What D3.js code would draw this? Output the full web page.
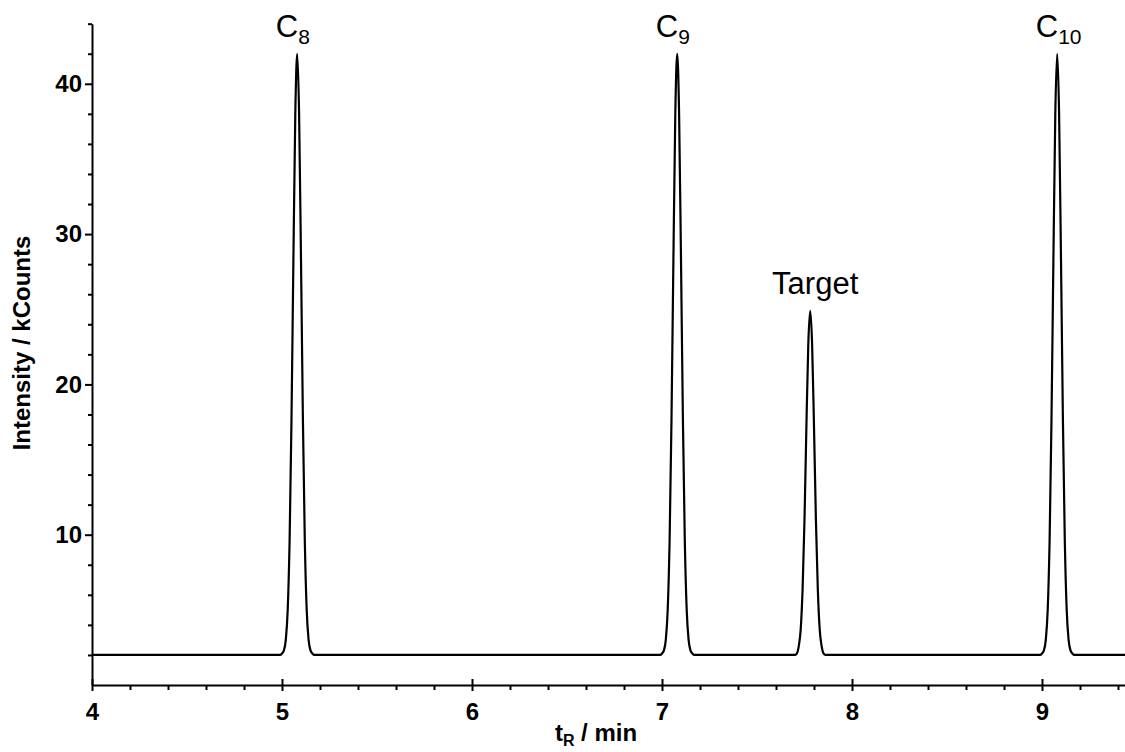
<!DOCTYPE html>
<html>
<head>
<meta charset="utf-8">
<script src="https://cdn.jsdelivr.net/npm/d3@7"></script>
<style>
  html, body { margin: 0; padding: 0; background: #fff; }
  svg { display: block; font-family: Arial, "Liberation Sans", sans-serif; }
</style>
</head>
<body>
<svg id="chart" width="1125" height="752"></svg>
<script>
/* Chromatogram: n-alkane standards C8 / C9 / C10 and the target peak */

// ---- data ----
const traceTime = [
  4.00,
  4.98, 4.99, 5.00, 5.01, 5.02, 5.03, 5.04, 5.05, 5.06, 5.07, 5.08,
  5.09, 5.10, 5.11, 5.12, 5.13, 5.14, 5.15, 5.16, 5.17, 5.18,
  6.98, 6.99, 7.00, 7.01, 7.02, 7.03, 7.04, 7.05, 7.06, 7.07, 7.08,
  7.09, 7.10, 7.11, 7.12, 7.13, 7.14, 7.15, 7.16, 7.17, 7.18,
  7.68, 7.69, 7.70, 7.71, 7.72, 7.73, 7.74, 7.75, 7.76, 7.77, 7.78,
  7.79, 7.80, 7.81, 7.82, 7.83, 7.84, 7.85, 7.86, 7.87, 7.88,
  8.98, 8.99, 9.00, 9.01, 9.02, 9.03, 9.04, 9.05, 9.06, 9.07, 9.08,
  9.09, 9.10, 9.11, 9.12, 9.13, 9.14, 9.15, 9.16, 9.17, 9.18,
  9.50
];
const traceIntensity = [
  2.0,
  2.0, 2.0, 2.1, 2.3, 3.0, 5.0, 9.6, 17.7, 28.3, 38.0, 42.0,
  38.0, 28.3, 17.7, 9.6, 5.0, 3.0, 2.3, 2.1, 2.0, 2.0,
  2.0, 2.0, 2.1, 2.3, 3.0, 5.0, 9.6, 17.7, 28.3, 38.0, 42.0,
  38.0, 28.3, 17.7, 9.6, 5.0, 3.0, 2.3, 2.1, 2.0, 2.0,
  2.0, 2.0, 2.0, 2.1, 2.6, 3.7, 6.4, 11.0, 17.2, 22.7, 24.9,
  22.7, 17.2, 11.0, 6.4, 3.7, 2.6, 2.1, 2.0, 2.0, 2.0,
  2.0, 2.0, 2.1, 2.3, 3.0, 5.0, 9.6, 17.7, 28.3, 38.0, 42.0,
  38.0, 28.3, 17.7, 9.6, 5.0, 3.0, 2.3, 2.1, 2.0, 2.0,
  2.0
];
const peakTime  = [5.08, 7.08, 7.78, 9.08];
const peakName  = ['C', 'C', 'Target', 'C'];
const peakSub   = ['8', '9', '', '10'];
const xTickLabels = [4, 5, 6, 7, 8, 9];
const yTickLabels = [10, 20, 30, 40];
const xDomain = [4, 9.5];
const yDomain = [0, 44];

// ---- layout ----
const W = 1125, H = 752;
const X0 = 92, PX_PER_MIN = 190;
const Y0 = 685, PX_PER_K = 15.03;
const FONT_AX = 24, FONT_PK = 31;

const svg = d3.select('#chart');
svg.append('rect').attr('width', W).attr('height', H).attr('fill', '#fff');

const x = d3.scaleLinear().domain(xDomain)
  .range([X0, X0 + PX_PER_MIN * (xDomain[1] - xDomain[0])]);
const y = d3.scaleLinear().domain(yDomain)
  .range([Y0, Y0 - PX_PER_K * (yDomain[1] - yDomain[0])]);

const trace = traceTime.map((t, i) => ({ t, v: traceIntensity[i] }));

// ---- trace ----
const line = d3.line().x(d => x(d.t)).y(d => y(d.v)).curve(d3.curveMonotoneX);
svg.append('path').datum(trace)
  .attr('fill', 'none').attr('stroke', '#000').attr('stroke-width', 2.2)
  .attr('stroke-linejoin', 'round')
  .attr('d', line);

// ---- axes ----
const minorX = d3.range(42, 95, 2).map(v => v / 10).filter(v => !xTickLabels.includes(v));
const minorY = d3.range(2, 45, 2).filter(v => !yTickLabels.includes(v));

function styleAxis(g) {
  g.selectAll('path.domain').attr('stroke', '#000').attr('stroke-width', 2);
  g.selectAll('.tick line').attr('stroke', '#000').attr('stroke-width', 2);
  g.selectAll('.tick text').attr('fill', '#000')
    .attr('font-size', FONT_AX).attr('font-weight', 'bold')
    .attr('font-family', 'Arial, "Liberation Sans", sans-serif');
}

// x minor
svg.append('g').attr('transform', `translate(0,${Y0})`)
  .call(d3.axisBottom(x).tickValues(minorX).tickSize(5).tickSizeOuter(0).tickFormat(''))
  .call(styleAxis)
  .call(g => g.select('path.domain').remove());

// x major (ticks cross the axis)
svg.append('g').attr('transform', `translate(0,${Y0})`)
  .call(d3.axisBottom(x).tickValues(xTickLabels).tickSize(6).tickSizeOuter(0)
    .tickPadding(12).tickFormat(d3.format('d')))
  .call(styleAxis)
  .call(g => g.selectAll('.tick line').attr('y1', -6));

// y minor
svg.append('g').attr('transform', `translate(${X0},0)`)
  .call(d3.axisLeft(y).tickValues(minorY).tickSize(4).tickSizeOuter(0).tickFormat(''))
  .call(styleAxis)
  .call(g => g.select('path.domain').remove());

// y major
svg.append('g').attr('transform', `translate(${X0},0)`)
  .call(d3.axisLeft(y).tickValues(yTickLabels).tickSize(7).tickSizeOuter(0)
    .tickPadding(3).tickFormat(d3.format('d')))
  .call(styleAxis);

// ---- axis titles ----
const xt = svg.append('text')
  .attr('x', 596).attr('y', 741).attr('text-anchor', 'middle')
  .attr('font-size', FONT_AX).attr('font-weight', 'bold');
xt.append('tspan').text('t');
xt.append('tspan').attr('font-size', 16).attr('dy', 5).text('R');
xt.append('tspan').attr('dy', -5).text(' / min');

svg.append('text')
  .attr('transform', 'translate(30,343) rotate(-90)')
  .attr('text-anchor', 'middle')
  .attr('font-size', FONT_AX).attr('font-weight', 'bold')
  .text('Intensity / kCounts');

// ---- peak labels ----
peakTime.forEach((t, i) => {
  const idx = d3.minIndex(trace, d => Math.abs(d.t - t));
  const px = x(trace[idx].t), py = y(trace[idx].v);
  const lab = svg.append('text').attr('y', py - 17).attr('font-size', FONT_PK).attr('fill', '#000');
  const main = lab.append('tspan').text(peakName[i]);
  if (peakSub[i]) {
    lab.append('tspan').attr('font-size', 21).attr('dy', 7).text(peakSub[i]);
    const wC = main.node().getComputedTextLength();
    lab.attr('x', px + 1 - wC);
    main.attr('x', px + 1 - wC);
  } else {
    lab.attr('x', px + 5).attr('text-anchor', 'middle');
  }
});
</script>
</body>
</html>
